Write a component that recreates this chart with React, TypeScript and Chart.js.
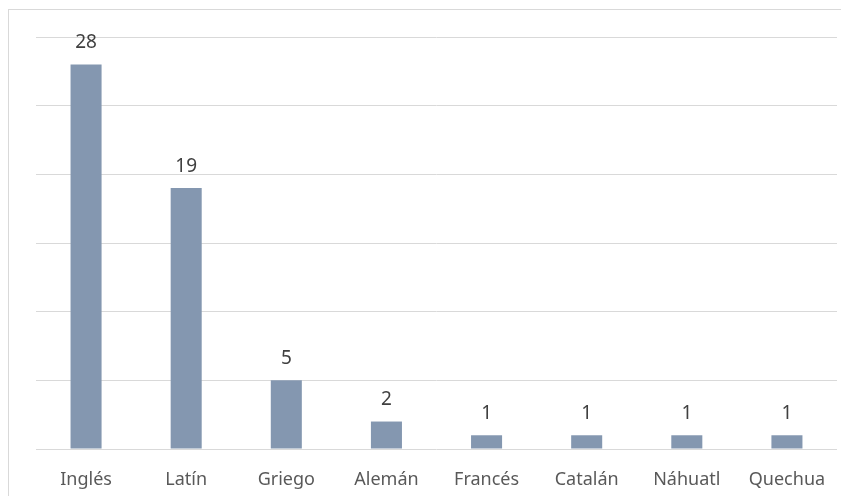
import React, { useEffect, useRef } from "react";
import { Chart, registerables } from "chart.js";

Chart.register(...registerables);

const categories = ["Inglés", "Latín", "Griego", "Alemán", "Francés", "Catalán", "Náhuatl", "Quechua"];
const counts = [28, 19, 5, 2, 1, 1, 1, 1];
const yMax = 30;
const yStep = 5;

const FONT = "'Noto Sans', sans-serif";

// Writes each bar's count centred above it
const valueLabels = {
  id: "valueLabels",
  afterDatasetsDraw(chart: any) {
    const { ctx } = chart;
    const meta = chart.getDatasetMeta(0);
    ctx.save();
    ctx.font = `19px ${FONT}`;
    ctx.fillStyle = "#404040";
    ctx.textAlign = "center";
    ctx.textBaseline = "alphabetic";
    meta.data.forEach((bar: any, i: number) => {
      ctx.fillText(String(counts[i]), bar.x, bar.y - 16.5);
    });
    ctx.restore();
  },
};

export default function App() {
  const canvasRef = useRef<HTMLCanvasElement | null>(null);

  useEffect(() => {
    if (!canvasRef.current) return;
    const chart = new Chart(canvasRef.current, {
      type: "bar",
      data: {
        labels: categories,
        datasets: [
          {
            data: counts,
            backgroundColor: "#8497B0",
            borderWidth: 0,
            categoryPercentage: 1,
            barPercentage: 0.31,
          },
        ],
      },
      options: {
        animation: false,
        responsive: false,
        maintainAspectRatio: false,
        layout: { padding: { left: 36, right: 12, top: 37, bottom: 0 } },
        plugins: {
          legend: { display: false },
          tooltip: { enabled: false },
        },
        scales: {
          x: {
            grid: { display: false, drawTicks: false },
            border: { display: false },
            ticks: {
              color: "#595959",
              font: { family: FONT, size: 18 },
              padding: 20,
              maxRotation: 0,
              autoSkip: false,
            },
            afterFit(scale: any) {
              scale.height = 55;
            },
          },
          y: {
            min: 0,
            max: yMax,
            ticks: { display: false, stepSize: yStep },
            grid: { color: "#d9d9d9", lineWidth: 1, drawTicks: false },
            border: { display: false },
            afterFit(scale: any) {
              scale.width = 0;
            },
          },
        },
      },
      plugins: [valueLabels],
    });
    return () => chart.destroy();
  }, []);

  return (
    <div
      style={{
        position: "relative",
        width: 849,
        height: 504,
        margin: -8,
        overflow: "hidden",
        background: "#ffffff",
      }}
    >
      <div
        style={{
          position: "absolute",
          left: 8,
          top: 9,
          width: 900,
          height: 600,
          borderTop: "1px solid #d9d9d9",
          borderLeft: "1px solid #d9d9d9",
        }}
      />
      <canvas
        ref={canvasRef}
        width={849}
        height={504}
        style={{ position: "absolute", left: 0, top: 0 }}
      />
    </div>
  );
}
